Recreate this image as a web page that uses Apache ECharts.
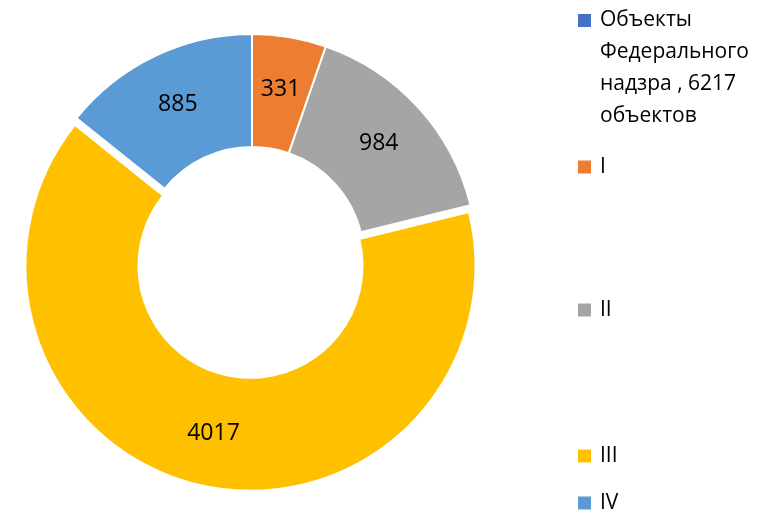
<!DOCTYPE html>
<html>
<head>
<meta charset="utf-8">
<script src="https://cdn.jsdelivr.net/npm/echarts@6/dist/echarts.min.js"></script>
<style>
  html, body { margin: 0; padding: 0; background: #fff; }
  #chart { width: 768px; height: 513px; }
</style>
</head>
<body>
<div id="chart"></div>
<script>
  // категории и значения
  var categories = ['Объекты Федерального надзра , 6217 объектов', 'I', 'II', 'III', 'IV'];
  var values = [0, 331, 984, 4017, 885];
  var colors = ['#4472C4', '#ED7D31', '#A5A5A5', '#FFC000', '#5B9BD5'];
  var explodedIdx = 3; // сектор III выдвинут

  var legendTops = [-91.5, 151, 294, 440, 487];

  // перенос длинной подписи легенды по словам; пустые строки сверху,
  // чтобы маркер стоял у первой строки, а не по центру блока
  function wrapName(name) {
    if (name.length < 10) return name;
    var w = name.split(' ');
    return '\n\n\n' + w[0] + '\n' + w[1] + '\n' + w[2] + ' ' + w[3] + ' ' + w[4] + '\n' + w[5];
  }

  var myChart = echarts.init(document.getElementById('chart'));

  var legends = categories.map(function (name, i) {
    return {
      data: [name],
      orient: 'vertical',
      left: 576,
      top: legendTops[i],
      padding: 0,
      icon: 'rect',
      itemWidth: 15,
      itemHeight: 15,
      selectedMode: false,
      formatter: wrapName,
      textStyle: {
        fontFamily: '"Open Sans", sans-serif',
        fontSize: 21,
        lineHeight: 32,
        color: '#000',
        padding: [0, 0, 0, 3]
      }
    };
  });

  var option = {
    animation: false,
    color: colors,
    legend: legends,
    series: [{
      type: 'pie',
      center: [252, 259],
      radius: [112, 225],
      startAngle: 90,
      clockwise: true,
      selectedMode: 'single',
      selectedOffset: 7,
      itemStyle: { borderColor: '#fff', borderWidth: 2 },
      select: { itemStyle: { borderColor: '#fff', borderWidth: 2 } },
      label: {
        show: true,
        position: 'inside',
        formatter: '{c}',
        fontFamily: '"Open Sans", sans-serif',
        fontSize: 23,
        color: '#000'
      },
      labelLine: { show: false },
      emphasis: { disabled: true },
      data: categories.map(function (name, i) {
        var item = { name: name, value: values[i] };
        if (values[i] === 0) item.label = { show: false };
        if (i === explodedIdx) item.selected = true;
        return item;
      })
    }]
  };

  myChart.setOption(option);
</script>
</body>
</html>
